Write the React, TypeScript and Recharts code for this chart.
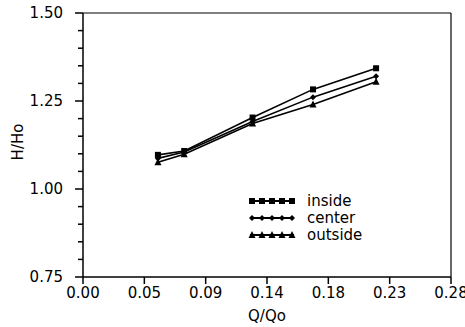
import React from "react";
import {
  LineChart,
  Line,
  XAxis,
  YAxis,
  ReferenceLine,
} from "recharts";

// Q/Qo positions of the five runs
const qValues = [0.057, 0.077, 0.129, 0.175, 0.223];
// H/Ho readings per probe position
const insideValues = [1.097, 1.108, 1.203, 1.283, 1.343];
const centerValues = [1.087, 1.105, 1.192, 1.261, 1.320];
const outsideValues = [1.076, 1.099, 1.186, 1.240, 1.305];

const xTicks = [0, 0.28 / 6, 0.56 / 6, 0.14, 1.12 / 6, 1.4 / 6, 0.28];
const xTickLabels = ["0.00", "0.05", "0.09", "0.14", "0.18", "0.23", "0.28"];
const yTicks = [
  0.75, 0.8, 0.85, 0.9, 0.95, 1.0, 1.05, 1.1, 1.15, 1.2, 1.25, 1.3, 1.35, 1.4,
  1.45, 1.5,
];
const yTickLabels = ["0.75", "1.00", "1.25", "1.50"];

const seriesNames = ["inside", "center", "outside"];

const rows = qValues.map((q, i) => ({
  q,
  inside: insideValues[i],
  center: centerValues[i],
  outside: outsideValues[i],
}));

const FONT = "'DejaVu Sans', sans-serif";

const drawMarker = (kind: string, cx: number, cy: number, key?: any) => {
  if (kind === "inside") {
    return <rect key={key} x={cx - 3} y={cy - 3} width={6} height={6} fill="#000" />;
  }
  if (kind === "center") {
    return (
      <polygon
        key={key}
        points={`${cx},${cy - 3} ${cx + 3},${cy} ${cx},${cy + 3} ${cx - 3},${cy}`}
        fill="#000"
      />
    );
  }
  return (
    <polygon
      key={key}
      points={`${cx},${cy - 4} ${cx + 3.5},${cy + 3} ${cx - 3.5},${cy + 3}`}
      fill="#000"
    />
  );
};

const makeDot = (kind: string) => (props: any) => {
  const { cx, cy, index } = props;
  if (cx == null || cy == null) return <g key={index} />;
  return <g key={index}>{drawMarker(kind, cx, cy)}</g>;
};

// y tick: minor ticks come from tickLine (5px), majors get 3px more and a label
const YTick = (props: any) => {
  const { x, y, payload } = props;
  const s = Number(payload.value).toFixed(2);
  if (!yTickLabels.includes(s)) return <g />;
  return (
    <g>
      <line x1={x} x2={x - 3} y1={y} y2={y} stroke="#000" strokeWidth={1.5} />
      <text
        x={x - 15}
        y={y}
        dy={5}
        textAnchor="end"
        fill="#000"
        fontSize={15}
        fontFamily={FONT}
      >
        {s}
      </text>
    </g>
  );
};

const LegendBox = () => (
  <svg width={140} height={60}>
    {seriesNames.map((name, i) => {
      const y = 8 + i * 17;
      return (
        <g key={name}>
          <line x1={2} x2={46} y1={y} y2={y} stroke="#000" strokeWidth={2} />
          {[4, 14, 24, 34, 44].map((mx) => drawMarker(name, mx, y, mx))}
          <text x={59} y={y + 5} fontFamily={FONT} fontSize={15} fill="#000">
            {name}
          </text>
        </g>
      );
    })}
  </svg>
);

const App = () => {
  return (
    <div style={{ position: "absolute", left: 0, top: 0, background: "#fff" }}>
      <LineChart
        width={465}
        height={327}
        data={rows}
        margin={{ top: 13, right: 14, left: 0, bottom: 19 }}
      >
        <XAxis
          dataKey="q"
          type="number"
          domain={[0, 0.28]}
          ticks={xTicks}
          tickFormatter={(v: number) => xTickLabels[xTicks.indexOf(v)] ?? ""}
          interval={0}
          height={31}
          tickSize={7}
          tickMargin={3}
          stroke="#000"
          strokeWidth={1.5}
          tick={{ fill: "#000", fontSize: 15, fontFamily: FONT }}
          label={{
            value: "Q/Qo",
            position: "insideBottom",
            offset: -13,
            fill: "#000",
            fontSize: 15,
            fontFamily: FONT,
          }}
        />
        <YAxis
          type="number"
          domain={[0.75, 1.5]}
          ticks={yTicks}
          interval={0}
          width={83}
          tickSize={5}
          tickMargin={0}
          stroke="#000"
          strokeWidth={1.5}
          tick={<YTick />}
          label={{
            content: () => (
              <text
                x={18}
                y={142}
                transform="rotate(-90, 18, 142)"
                textAnchor="middle"
                dominantBaseline="central"
                fill="#000"
                fontSize={15}
                fontFamily={FONT}
              >
                H/Ho
              </text>
            ),
          }}
        />
        <ReferenceLine y={1.5} stroke="#000" strokeWidth={1.2} />
        <ReferenceLine x={0.28} stroke="#000" strokeWidth={1.2} />
        {seriesNames.map((name) => (
          <Line
            key={name}
            type="linear"
            dataKey={name}
            stroke="#000"
            strokeWidth={1.6}
            dot={makeDot(name)}
            activeDot={false}
            isAnimationActive={false}
          />
        ))}
      </LineChart>
      <div style={{ position: "absolute", left: 248, top: 193 }}>
        <LegendBox />
      </div>
    </div>
  );
};

export default App;
